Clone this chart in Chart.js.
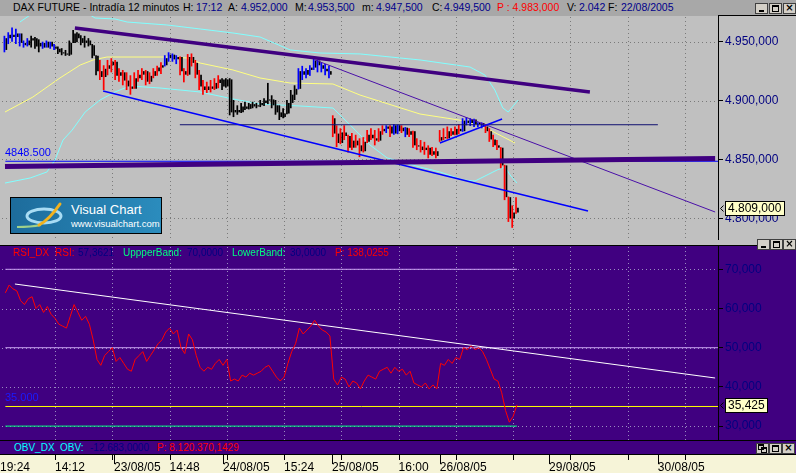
<!DOCTYPE html>
<html>
<head>
<meta charset="utf-8">
<title>DAX FUTURE - Intradía 12 minutos</title>
<script src="https://cdn.jsdelivr.net/npm/chart.js@4.4.1/dist/chart.umd.min.js"></script>
<style>
html,body{margin:0;padding:0}
body{width:796px;height:473px;overflow:hidden;position:relative;background:#c0c0c0;font-family:"Liberation Sans",Arial,sans-serif}
.abs{position:absolute}
#hdr{left:0;top:0;width:796px;height:16px;background:#a8a8a8;font-size:10.5px;line-height:15px;color:#000}
#hdr span,#rsiHdr span,#obv span{position:absolute;top:0;white-space:nowrap}
#hdr .v{color:#00008b}
#hdr .r{color:#ff0000}
#axisTop{left:718px;top:15px;width:78px;height:1px;background:#000}
#sep{left:0;top:240px;width:796px;height:5px;background:#c0c0c0;border-bottom:1px solid #000}
#rsiHdr{left:0;top:246px;width:718px;height:13px;font-size:10px;line-height:13px}
#obv{left:0;top:440px;width:796px;height:13px;background:#400080;border-top:1px solid #000;border-bottom:1px solid #000;font-size:10px;line-height:13px}
.red{color:#ff0000}.navy{color:#000080}.grn{color:#00ff80}.cyan{color:#00ffff}
.btn{position:absolute;width:11px;height:9px;background:#d4d0c8;border:1px solid #404040}
.mn{position:absolute;left:3px;top:6px;width:5px;height:2px;background:#000}
.mx{position:absolute;left:2px;top:1px;width:5px;height:4px;border:1px solid #000;border-top-width:2px}
.cl{position:absolute;left:0;top:-1px;width:11px;text-align:center;font:bold 10px/10px "DejaVu Sans",sans-serif;color:#000}
#logo{left:10px;top:197px;width:150px;height:35px;border:1px solid #000;background:linear-gradient(to right,#1d6c9c,#2b8cbd)}
#logo .t1{position:absolute;left:60px;top:4px;color:#fff;font:13px "Liberation Sans",Arial,sans-serif}
#logo .t2{position:absolute;left:60px;top:20px;color:#fff;font:9.5px "Liberation Sans",Arial,sans-serif}
</style>
</head>
<body>
<canvas id="cPrice" class="abs" style="left:0;top:16px;width:796px;height:224px;background:#c0c0c0" width="796" height="224"></canvas>
<canvas id="cRsi" class="abs" style="left:0;top:246px;width:796px;height:194px;background:#400080" width="796" height="194"></canvas>
<canvas id="cAxis" class="abs" style="left:0;top:455px;width:796px;height:18px;background:#f6f4d8" width="796" height="18"></canvas>

<div id="hdr" class="abs">
<span style="left:13px">DAX FUTURE - Intradía 12 minutos</span>
<span style="left:183px">H:</span><span class="v" style="left:196px">17:12</span>
<span style="left:228px">A:</span><span class="v" style="left:241px">4.952,000</span>
<span style="left:295px">M:</span><span class="v" style="left:308px">4.953,500</span>
<span style="left:362px">m:</span><span class="v" style="left:376px">4.947,500</span>
<span style="left:432px">C:</span><span class="v" style="left:444px">4.949,500</span>
<span class="r" style="left:497px">P : 4.983,000</span>
<span style="left:567px">V:</span><span class="v" style="left:579px">2.042</span>
<span style="left:608px">F:</span><span class="v" style="left:621px">22/08/2005</span>
<div class="btn" style="left:755px;top:3px"><i class="mn"></i></div>
<div class="btn" style="left:769px;top:3px"><i class="mx"></i></div>
<div class="btn" style="left:783px;top:3px"><i class="cl">×</i></div>
</div>
<div id="axisTop" class="abs"></div>
<div id="sep" class="abs"></div>
<div class="btn" style="left:757px;top:239px"><i class="mn"></i></div>
<div class="btn" style="left:770px;top:239px"><i class="mx"></i></div>
<div class="btn" style="left:783px;top:239px"><i class="cl">×</i></div>

<div id="rsiHdr" class="abs">
<span class="red" style="left:13px">RSI_DX</span><span class="red" style="left:55px">RSI:</span>
<span class="navy" style="left:78px">57,3621</span>
<span class="grn" style="left:123px">UppperBand:</span><span class="navy" style="left:187px">70,0000</span>
<span class="grn" style="left:232px">LowerBand:</span><span class="navy" style="left:290px">30,0000</span>
<span class="red" style="left:335px">P: 138,0255</span>
</div>

<div id="obv" class="abs">
<span class="cyan" style="left:14px">OBV_DX</span><span class="cyan" style="left:60px">OBV:</span>
<span class="navy" style="left:90px">-12.683,0000</span>
<span class="red" style="left:157px">P: 8.120.370,1429</span>
<div class="btn" style="left:756px;top:2px"><i class="mx" style="left:1px;top:0;width:4px;height:3px"></i><i class="mx" style="left:4px;top:3px;width:4px;height:3px"></i></div>
<div class="btn" style="left:769px;top:2px"><i class="mx"></i></div>
<div class="btn" style="left:782px;top:2px"><i class="cl">×</i></div>
</div>

<div id="logo" class="abs">
<svg width="60" height="35" style="position:absolute;left:0;top:0">
<ellipse cx="33" cy="18" rx="17" ry="7" fill="none" stroke="#a8dcf4" stroke-width="3"/>
<path d="M6 29 Q20 29 30 27" fill="none" stroke="#9fd08a" stroke-width="2"/>
<path d="M28 27 Q38 22 49 6" fill="none" stroke="#f2b21e" stroke-width="3" stroke-linecap="round"/>
</svg>
<div class="t1">Visual Chart</div>
<div class="t2">www.visualchart.com</div>
</div>

<script>
// ---------- time axis (bar index units) ----------
const xMin = 0.595, xMax = 188.65;
const firstBar = 2;
const gridBars = [15, 30, 45, 60, 75, 90, 105, 120, 135, 150, 165, 180];
const dayBars = [30.45, 59.0, 87.55, 115.8, 144.4, 172.9];
const axisLabelBars = [0.6, 15, 30.45, 45, 59.0, 75, 87.55, 105, 115.8, 144.4, 172.9];
const axisLabels = ['19:24', '14:12', '23/08/05', '14:48', '24/08/05', '15:24', '25/08/05', '16:00', '26/08/05', '29/08/05', '30/08/05'];

// ---------- price bars (bars 2..136) ----------
const opens = [
 4943,4953,4956,4954,4957,4949,4947,4951,4953,4946,
 4949,4945,4950,4946,4944,4941,4940,4939,4949,4957,
 4953,4949,4951,4947,4938,4925,4920,4927,4930,4933,
 4921,4924,4917,4912,4910,4919,4922,4925,4916,4921,
 4925,4928,4930,4936,4939,4935,4937,4925,4922,4937,
 4932,4922,4912,4909,4912,4910,4915,4918,4912,4918,
 4890,4892,4890,4895,4893,4897,4895,4896,4898,4900,
 4901,4896,4890,4886,4889,4898,4905,4910,4925,4922,
 4926,4928,4934,4930,4927,4925,4885,4872,4864,4873,
 4870,4860,4866,4862,4857,4865,4871,4868,4866,4874,
 4876,4878,4872,4879,4874,4877,4871,4874,4862,4861,
 4858,4860,4854,4857,4866,4869,4868,4874,4871,4876,
 4874,4883,4881,4884,4880,4881,4878,4874,4867,4862,
 4860,4845,4818,4800,4805];
const highs = [
 4955,4958,4962,4961,4957,4951,4953,4955,4954,4952,
 4950,4951,4950,4948,4946,4944.5,4943,4951,4960,4958,
 4955.5,4955,4953,4948,4938.5,4934.5,4930,4934.5,4936,4934.5,
 4927.5,4926,4924,4921.5,4924,4926,4927.5,4926,4924,4927.5,
 4929.5,4932.5,4938.5,4941,4940,4938.5,4937.5,4927.5,4939.5,4940,
 4934.5,4926,4917.5,4916,4917.5,4919,4921.5,4919,4919,4919,
 4900.5,4896,4898,4899,4898,4899,4898,4900.5,4902,4915,
 4904.5,4900.5,4896,4893.5,4900.5,4909,4913,4927.5,4929.5,4927.5,
 4930,4937,4934.5,4932.5,4931,4929.5,4887.5,4879,4876.5,4879,
 4871,4872.5,4871,4868,4869,4875,4876.5,4875,4876.5,4879,
 4879,4879,4880,4879.5,4879,4877.5,4876.5,4874.5,4868,4866.5,
 4865,4862,4860.5,4860,4875,4876.5,4878,4876.5,4878,4880,
 4885,4886,4885,4884.5,4881.5,4881.5,4880,4876.5,4871,4866.5,
 4860.5,4845.5,4818.5,4811,4818];
const lows = [
 4941,4948,4950,4948,4946,4945,4946,4945,4944,4941,
 4944,4945,4944,4943,4939.5,4938.5,4938,4938,4949,4949.5,
 4947,4945,4946,4936,4921.5,4917.5,4909,4921.5,4924,4917.5,
 4916,4913,4909,4905,4910,4916,4917.5,4913,4914,4919,
 4921,4922.5,4929,4933,4933,4931,4921.5,4915.5,4921,4929,
 4919,4909,4905,4906.5,4907,4909,4910.5,4909,4911,4887.5,
 4886,4888,4889.5,4892,4892.5,4893.5,4893.5,4894.5,4895.5,4897,
 4893.5,4888,4883.5,4885,4888.5,4893.5,4900.5,4909.5,4917.5,4919,
 4921,4926,4924,4924,4921.5,4919,4869,4860.5,4863,4866.5,
 4856,4858,4860,4852,4856,4864,4866.5,4862,4865,4871,
 4872.5,4869,4871,4871.5,4872.5,4869,4869,4860,4858,4856,
 4854,4851,4853,4851,4865,4866.5,4867.5,4870,4870.5,4871.5,
 4873.5,4879,4878.5,4877.5,4877.5,4876.5,4872.5,4865,4860.5,4858,
 4842.5,4815.5,4797,4792,4804];
const closes = [
 4953,4956,4954,4957,4949,4947,4951,4953,4946,4949,
 4945,4950,4946,4944,4941,4940,4939,4949,4957,4953,
 4949,4951,4947,4938,4925,4920,4927,4930,4933,4921,
 4924,4917,4912,4910,4919,4922,4925,4916,4921,4925,
 4928,4930,4936,4939,4935,4937,4925,4922,4937,4932,
 4922,4912,4909,4912,4910,4915,4918,4912,4918,4890,
 4892,4890,4895,4893,4897,4895,4896,4898,4900,4901,
 4896,4890,4886,4889,4898,4905,4910,4925,4922,4926,
 4928,4934,4930,4927,4925,4922,4872,4864,4873,4870,
 4860,4866,4862,4857,4865,4871,4868,4866,4874,4876,
 4878,4872,4879,4874,4877,4871,4874,4862,4861,4858,
 4860,4854,4857,4853,4869,4868,4874,4871,4876,4874,
 4883,4881,4884,4880,4881,4878,4874,4867,4862,4860,
 4845,4818,4800,4805,4809];
// trend state of each bar: 1 up, 0 neutral, -1 down
const trend = [
 1,1,1,1,1,1,1,0,0,0,
 1,1,1,1,0,0,0,0,0,0,
 0,0,0,0,0,-1,-1,-1,-1,-1,
 -1,-1,-1,-1,-1,-1,-1,-1,-1,-1,
 -1,-1,1,1,1,1,-1,-1,-1,-1,
 -1,-1,-1,-1,-1,-1,-1,0,0,0,
 0,0,0,0,0,0,0,0,0,0,
 0,0,0,0,0,0,0,1,1,1,
 1,1,1,1,1,1,-1,-1,-1,-1,
 -1,-1,-1,-1,-1,-1,-1,-1,-1,-1,
 1,-1,1,1,-1,1,-1,-1,-1,-1,
 -1,-1,-1,-1,-1,-1,-1,-1,-1,-1,
 1,1,1,1,1,1,-1,-1,-1,-1,
 -1,-1,-1,-1,-1];

// ---------- price indicators ----------
const bbUpperBars = [5.8, 8.5, 22.9, 25.5, 30.7, 33.9, 44.3, 53.0, 61.6, 68.7, 76.6, 84.4, 94.9, 110.6, 123.7, 127.6, 130.2, 132.3, 133.7, 136.3];
const bbUpperVals = [4966.7, 4972.7, 4975.2, 4970.1, 4969.3, 4966.7, 4964.2, 4960.8, 4957.4, 4954.0, 4943.0, 4940.4, 4939.6, 4934.5, 4928.5, 4921.7, 4909.0, 4893.7, 4890.3, 4900.5];
const bbLowerBars = [1.9, 8.5, 12.9, 15.0, 17.1, 19.5, 22.9, 26.8, 30.7, 34.6, 42.5, 53.0, 61.6, 68.7, 79.2, 87.8, 92.3, 97.5, 102.0, 110.6, 115.8, 121.9, 125.0, 130.8, 132.9, 134.2, 136.0];
const bbLowerVals = [4830.0, 4834.3, 4839.4, 4849.6, 4866.5, 4875.0, 4890.3, 4900.5, 4907.3, 4912.4, 4910.7, 4907.3, 4901.4, 4897.1, 4895.4, 4893.7, 4879.3, 4862.3, 4851.3, 4843.6, 4839.4, 4832.6, 4831.7, 4841.1, 4843.6, 4836.8, 4830.0];
const maBars = [1.9, 9.2, 16.3, 21.6, 25.0, 28.6, 44.3, 49.6, 53.0, 61.6, 68.7, 76.6, 87.8, 94.9, 110.6, 122.4, 128.9, 135.5];
const maVals = [4890.3, 4903.0, 4919.2, 4930.2, 4934.5, 4937.0, 4937.0, 4936.2, 4931.9, 4926.0, 4919.2, 4914.9, 4914.1, 4904.7, 4888.6, 4882.7, 4875.0, 4864.0];

// ---------- drawn trend lines ----------
const resistBars = [20.2, 155.1], resistVals = [4961.6, 4907.3];
const fastResistBars = [83.1, 187.9], fastResistVals = [4934.5, 4805.4];
const supportBars = [27.6, 154.6], supportVals = [4908.1, 4806.3];
const riseBars = [115.8, 132.1], riseVals = [4864.0, 4884.4];
const levelBars = [47.7, 172.9], levelVal = 4879.5;
const baseBars = [1.9, 187.9], baseVals = [4844.0, 4850.8];
const markLevel = 4848.5;

// ---------- RSI ----------
const rsi = [
 64,66,65,64.5,62,61,62.5,63,60,61,
 59,60.5,58.5,57.5,56,55.5,55,58,61,59,
 57,58,56,52,47,45.5,48,49,50,46.5,
 47.5,46,44.5,44,47,48,49,46.5,48,49.5,
 51,52,54,55,53.5,54.5,50,48.5,53.5,52,
 48,45,44,45,44.5,46,47,45.5,47,41.5,
 42,41.5,43,42.5,43.5,43,43.5,44,45,45.5,
 44,42.5,41.5,42.5,46,49,51,55,53.5,54.5,
 55.5,57,55.5,54.5,54,53,42,40.5,42.5,42,
 40,41.5,41,39.5,41.5,43,42.5,42,44,44.5,
 45,43.5,45,44,44.5,43,44,41,40.5,40,
 41,39.5,40.5,39.5,46,45.5,47,46,47.5,47,
 50,49.5,50.5,49.5,50,49,47,44.5,42,41.5,
 38.5,34,31,32.5,35.425];
const rsiUpper = 70, rsiMid = 50, rsiAlert = 35, rsiLower = 30;
const rsiTrendBars = [4.5, 187.9], rsiTrendVals = [66.25, 42.27];

const priceTicks = [4800, 4850, 4900, 4950];
const rsiTicks = [30, 40, 50, 60, 70];
const priceRange = [4781.64, 4971.82];
const rsiRange = [26.454, 75.944];

// ---------- helpers ----------
const lastBar = firstBar + closes.length - 1;
const barX = closes.map((_, i) => firstBar + i);
function fmtNum(v, dec, thou) {
  const parts = v.toFixed(dec).split('.');
  const ip = thou ? parts[0].replace(/\B(?=(\d{3})+(?!\d))/g, '.') : parts[0];
  return parts[1] ? ip + ',' + parts[1] : ip;
}
const fmtPrice = v => fmtNum(v, 3, true);
const fmtRsi = v => fmtNum(v, 3, false);
const FONT = "'Liberation Sans', Arial, sans-serif";
function line(xs, ys, color, width, order) {
  return { type: 'line', data: xs.map((x, i) => ({ x, y: ys[i] })), borderColor: color, borderWidth: width,
    pointRadius: 0, tension: 0, fill: false, order };
}
const trendColor = t => t > 0 ? '#0000ff' : (t < 0 ? '#ff0000' : '#000000');

const dotGrid = {
  id: 'dotGrid',
  beforeDatasetsDraw(chart, args, o) {
    const { ctx, chartArea: a, scales: { x, y } } = chart;
    ctx.save();
    ctx.fillStyle = o.color;
    for (const b of gridBars) {
      const px = Math.round(x.getPixelForValue(b));
      for (let py = a.top + 1; py < a.bottom; py += 4) ctx.fillRect(px, py, 1, 1);
    }
    for (const t of o.ticks) {
      const py = Math.round(y.getPixelForValue(t));
      for (let px = a.left + 2; px < a.right; px += 4) ctx.fillRect(px, py, 1, 1);
    }
    ctx.restore();
  }
};
const axisFrame = {
  id: 'axisFrame',
  afterDraw(chart) {
    const { ctx, chartArea: a } = chart;
    ctx.save(); ctx.fillStyle = '#000';
    ctx.fillRect(Math.round(a.right), 0, 1, chart.height);
    ctx.restore();
  }
};
const lastTag = {
  id: 'lastTag',
  afterDraw(chart, args, o) {
    const { ctx, chartArea: a, scales: { y } } = chart;
    const py = Math.round(y.getPixelForValue(o.value));
    ctx.save();
    ctx.font = '12px ' + FONT;
    const w = Math.ceil(ctx.measureText(o.text).width) + 5;
    const x0 = Math.round(a.right) + 7;
    ctx.fillStyle = '#ffffc8';
    ctx.fillRect(x0, py - 7, w, 14);
    ctx.strokeStyle = '#000'; ctx.lineWidth = 1;
    ctx.strokeRect(x0 + 0.5, py - 6.5, w, 14);
    ctx.fillStyle = '#000'; ctx.textBaseline = 'middle'; ctx.textAlign = 'left';
    ctx.fillText(o.text, x0 + 3, py + 1);
    ctx.beginPath();
    ctx.moveTo(x0 - 1.5, py - 2.5); ctx.lineTo(x0 - 4.5, py + 0.5); ctx.lineTo(x0 - 1.5, py + 3.5);
    ctx.strokeStyle = o.arrow; ctx.stroke();
    ctx.restore();
  }
};
const levelLabel = {
  id: 'levelLabel',
  afterDatasetsDraw(chart, args, o) {
    const { ctx, chartArea: a, scales: { y } } = chart;
    ctx.save();
    ctx.font = '11px ' + FONT; ctx.fillStyle = o.color; ctx.textBaseline = 'middle'; ctx.textAlign = 'left';
    ctx.fillText(o.text, a.left + 5, y.getPixelForValue(o.value) + o.dy);
    ctx.restore();
  }
};
function xAxis() {
  return { type: 'linear', display: false, min: xMin, max: xMax, offset: false,
    afterBuildTicks: s => { s.ticks = gridBars.map(v => ({ value: v })); } };
}
function rightAxis(range, ticksArr, fmt) {
  return { type: 'linear', position: 'right', min: range[0], max: range[1],
    afterBuildTicks: s => { s.ticks = ticksArr.map(v => ({ value: v })); },
    afterFit: s => { s.width = 78; s.paddingTop = 0; s.paddingBottom = 0; },
    grid: { drawOnChartArea: false, drawTicks: true, tickLength: 5, tickColor: '#000', tickWidth: 1 },
    border: { display: false },
    ticks: { color: '#000080', padding: 2, font: { family: FONT, size: 12 }, callback: v => fmt(v) } };
}
const baseOpts = { responsive: false, animation: false, events: [], layout: { padding: 0 } };

// ---------- price chart ----------
new Chart(document.getElementById('cPrice'), {
  type: 'bar',
  data: { datasets: [
    line(bbUpperBars, bbUpperVals, '#80ffff', 1, 3),
    line(bbLowerBars, bbLowerVals, '#80ffff', 1, 3),
    line(maBars, maVals, '#ffff80', 1, 3),
    { type: 'bar', data: barX.map((b, i) => ({ x: b, y: [lows[i], highs[i]] })),
      backgroundColor: trend.map(trendColor), borderWidth: 0, categoryPercentage: 1, barPercentage: 0.9, order: 2 },
    { type: 'bar', data: barX.map((b, i) => ({ x: b, y: [Math.min(opens[i], closes[i]), Math.max(opens[i], closes[i])] })),
      backgroundColor: '#000000', borderWidth: 0, categoryPercentage: 1, barPercentage: 0.9, minBarLength: 1, order: 2 },
    line(resistBars, resistVals, '#400080', 3.5, 1),
    line(baseBars, baseVals, '#400080', 5, 1),
    line([firstBar, xMax], [markLevel, markLevel], '#0000ff', 1, 1),
    line(fastResistBars, fastResistVals, '#4a10a8', 1, 1),
    line(supportBars, supportVals, '#0000ff', 1.5, 1),
    line(riseBars, riseVals, '#0000ff', 1.5, 1),
    line(levelBars, [levelVal, levelVal], '#101070', 1, 1)
  ] },
  options: Object.assign({}, baseOpts, {
    plugins: { legend: { display: false }, tooltip: { enabled: false },
      dotGrid: { color: '#7a7a7a', ticks: priceTicks },
      lastTag: { value: closes[closes.length - 1], text: fmtPrice(closes[closes.length - 1]), arrow: '#000' },
      levelLabel: { value: markLevel, text: markLevel.toFixed(3), color: '#0000ff', dy: -8 } },
    scales: { x: xAxis(), y: rightAxis(priceRange, priceTicks, fmtPrice) }
  }),
  plugins: [dotGrid, axisFrame, lastTag, levelLabel]
});

// ---------- RSI chart ----------
new Chart(document.getElementById('cRsi'), {
  type: 'line',
  data: { datasets: [
    line([firstBar, lastBar], [rsiUpper, rsiUpper], '#c8a0f0', 1, 3),
    line([firstBar, xMax], [rsiMid, rsiMid], '#c8a0f0', 1, 3),
    line([firstBar, xMax], [rsiAlert, rsiAlert], '#ffff00', 1, 3),
    line([firstBar, lastBar], [rsiLower, rsiLower], '#00ff80', 1, 3),
    line(rsiTrendBars, rsiTrendVals, '#ffffff', 1, 2),
    line(barX, rsi, '#ff0000', 1, 1)
  ] },
  options: Object.assign({}, baseOpts, {
    plugins: { legend: { display: false }, tooltip: { enabled: false },
      dotGrid: { color: '#9a8cc0', ticks: rsiTicks },
      lastTag: { value: rsi[rsi.length - 1], text: fmtRsi(rsi[rsi.length - 1]), arrow: '#000' },
      levelLabel: { value: rsiAlert, text: rsiAlert.toFixed(3), color: '#1a1aff', dy: -9 } },
    scales: { x: xAxis(), y: rightAxis(rsiRange, rsiTicks, fmtRsi) }
  }),
  plugins: [dotGrid, axisFrame, lastTag, levelLabel]
});

// ---------- time axis strip ----------
const stripTicks = {
  id: 'stripTicks',
  afterDraw(chart) {
    const { ctx, scales: { x } } = chart;
    ctx.save(); ctx.fillStyle = '#000';
    for (const b of gridBars) ctx.fillRect(Math.round(x.getPixelForValue(b)), 0, 1, 5);
    for (const b of dayBars) ctx.fillRect(Math.round(x.getPixelForValue(b)), 0, 1, 9);
    ctx.restore();
  }
};
new Chart(document.getElementById('cAxis'), {
  type: 'line',
  data: { datasets: [{ data: [] }] },
  options: Object.assign({}, baseOpts, {
    layout: { padding: { left: 0, right: 78, top: 0, bottom: 0 } },
    plugins: { legend: { display: false }, tooltip: { enabled: false } },
    scales: {
      x: { type: 'linear', position: 'bottom', min: xMin, max: xMax, offset: false,
        afterBuildTicks: s => { s.ticks = axisLabelBars.map(v => ({ value: v })); },
        afterFit: s => { s.height = 17; s.paddingLeft = 0; s.paddingRight = 0; },
        grid: { drawOnChartArea: false, drawTicks: false },
        border: { display: false },
        ticks: { autoSkip: false, maxRotation: 0, minRotation: 0, align: 'start', padding: 4, color: '#000',
          font: { family: FONT, size: 12 }, callback: (v, i) => axisLabels[i] } },
      y: { display: false }
    }
  }),
  plugins: [stripTicks]
});
</script>
</body>
</html>
